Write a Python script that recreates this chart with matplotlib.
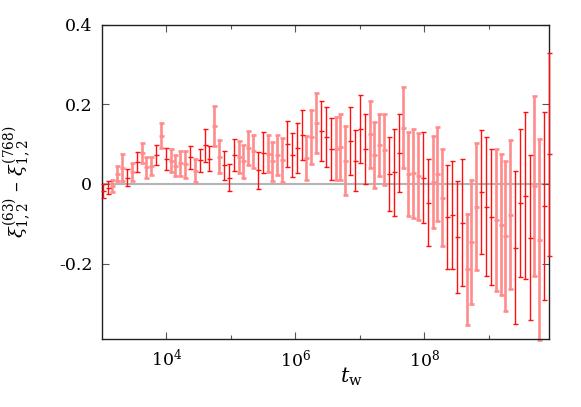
import numpy as np
import matplotlib
matplotlib.use("Agg")
from matplotlib import pyplot as plt
from matplotlib.ticker import FixedLocator, NullFormatter

plt.rcParams['font.family'] = ['DejaVu Serif']
plt.rcParams['mathtext.fontset'] = 'dejavuserif'
plt.rcParams['axes.unicode_minus'] = False

# t_w grid: 2^10 ... 2^33 in quarter-octave steps
quarter_octave = np.arange(40, 133)
t_w = 2.0 ** (quarter_octave / 4)

# xi^(63) - xi^(768)
xi_diff = [-0.017, -0.009, -0.005, 0.026, 0.041, 0.016, 0.030, 0.055, 0.077, 0.042,
           0.045, 0.072, 0.122, 0.063, 0.059, 0.046, 0.052, 0.050, 0.067, 0.033,
           0.060, 0.097, 0.064, 0.146, 0.069, 0.047, 0.016, 0.072, 0.067, 0.057,
           0.091, 0.082, 0.034, 0.079, 0.076, 0.057, 0.073, 0.060, 0.101, 0.073,
           0.090, 0.123, 0.065, 0.118, 0.153, 0.133, 0.119, 0.089, 0.089, 0.093,
           0.059, 0.108, 0.059, 0.139, 0.087, 0.125, 0.073, 0.097, 0.086, 0.025,
           0.029, 0.078, 0.142, 0.026, 0.027, 0.019, 0.016, -0.047, 0.006, 0.026,
           -0.034, -0.083, -0.078, -0.133, -0.097, -0.215, -0.145, -0.057, -0.021, -0.057,
           -0.083, -0.090, -0.102, -0.131, -0.077, -0.160, -0.048, -0.029, -0.135, -0.005,
           -0.140, -0.055, 0.075]
xi_err = [0.017, 0.016, 0.015, 0.019, 0.034, 0.021, 0.022, 0.026, 0.025, 0.026,
          0.023, 0.025, 0.031, 0.028, 0.028, 0.027, 0.031, 0.034, 0.029, 0.029,
          0.029, 0.041, 0.031, 0.050, 0.042, 0.036, 0.034, 0.040, 0.040, 0.041,
          0.043, 0.041, 0.046, 0.052, 0.047, 0.049, 0.050, 0.056, 0.057, 0.055,
          0.063, 0.063, 0.055, 0.068, 0.075, 0.075, 0.075, 0.078, 0.080, 0.083,
          0.087, 0.085, 0.076, 0.085, 0.088, 0.084, 0.082, 0.078, 0.089, 0.094,
          0.109, 0.099, 0.101, 0.106, 0.112, 0.110, 0.115, 0.109, 0.116, 0.118,
          0.122, 0.130, 0.136, 0.140, 0.159, 0.140, 0.156, 0.160, 0.156, 0.174,
          0.171, 0.179, 0.177, 0.189, 0.187, 0.192, 0.187, 0.210, 0.207, 0.227,
          0.252, 0.236, 0.255]
# which of the two runs each point comes from (0 = solid red, 1 = light red)
run = [0, 0, 1, 1, 1, 0, 1, 0, 1, 1,
       1, 0, 1, 0, 1, 1, 1, 1, 0, 1,
       0, 0, 0, 1, 1, 0, 0, 0, 1, 1,
       1, 1, 0, 0, 1, 1, 1, 1, 0, 0,
       0, 0, 1, 1, 1, 0, 0, 0, 1, 1,
       1, 0, 0, 0, 0, 1, 1, 1, 1, 0,
       0, 0, 1, 1, 1, 1, 0, 0, 1, 1,
       1, 0, 0, 0, 0, 1, 1, 1, 0, 0,
       0, 1, 1, 1, 1, 0, 0, 0, 0, 1,
       1, 0, 0]

y_ticks = [-0.2, 0, 0.2, 0.4]
y_labels = ["-0.2", "0", "0.2", "0.4"]

fig = plt.figure(figsize=(5.81, 4.07), dpi=100)
ax = fig.add_axes([0.1756, 0.167, 0.7694, 0.7716])

ax.axhline(0, color="#b4b4b4", lw=1.5, zorder=1)

t_w = np.asarray(t_w)
xi_diff = np.asarray(xi_diff)
xi_err = np.asarray(xi_err)
run = np.asarray(run)

styles = {1: dict(color="#ff8c8c", lw=1.9, zorder=2),
          0: dict(color="#ff1010", lw=1.0, zorder=3)}
for r, st in styles.items():
    m = run == r
    eb = ax.errorbar(t_w[m], xi_diff[m], yerr=xi_err[m], fmt="_", color=st["color"],
                     ecolor=st["color"], elinewidth=st["lw"], capsize=1.8,
                     capthick=st["lw"], markersize=3.6, markeredgewidth=st["lw"],
                     zorder=st["zorder"])
    for artist in eb.get_children():
        artist.set_clip_on(False)

ax.set_xscale("log")
ax.set_xlim(1e3, 2.0 ** 33)
ax.set_ylim(-0.39, 0.40)

ax.xaxis.set_major_locator(FixedLocator([1e4, 1e6, 1e8]))
ax.xaxis.set_minor_locator(FixedLocator([1e5, 1e7, 1e9]))
ax.xaxis.set_minor_formatter(NullFormatter())
ax.set_yticks(y_ticks)
ax.set_yticklabels(y_labels)

ax.tick_params(which="both", direction="in", top=True, right=True,
               color="#555555", labelsize=12.5, pad=7)
ax.tick_params(which="major", length=5, width=0.8)
ax.tick_params(which="minor", length=3, width=0.8)
for s in ax.spines.values():
    s.set_linewidth(1.0)
    s.set_color("#222222")

ax.set_xlabel(r"$t_{\rm w}$", fontsize=15)
ax.xaxis.set_label_coords(0.557, -0.085)
ax.set_ylabel(r"$\xi^{(63)}_{1,2}$ – $\xi^{(768)}_{1,2}$", fontsize=14)
ax.yaxis.set_label_coords(-0.155, 0.5)

fig.savefig("out.png", dpi=100)
